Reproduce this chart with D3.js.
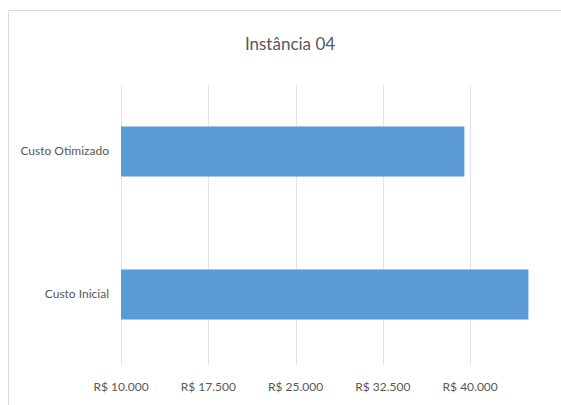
<html>
<head>
<meta charset="utf-8">
<script src="https://d3js.org/d3.v7.min.js"></script>
<style>
  body { margin: 0; background: #fff; }
  text { font-family: Lato, "Open Sans", sans-serif; fill: #595959; }
</style>
</head>
<body>
<svg id="chart" width="561" height="405"></svg>
<script>
var categories = ["Custo Otimizado", "Custo Inicial"];
var values = [39500, 45000];
var tickValues = [10000, 17500, 25000, 32500, 40000];
var title = "Instância 04";

var svg = d3.select("#chart");

// chart area frame (right side is cut off in the original)
svg.append("path")
  .attr("d", "M8.5,405 V10.5 H561")
  .attr("fill", "none")
  .attr("stroke", "#d9d9d9");

var x = d3.scaleLinear().domain([10000, 47500]).range([121, 557.5]);
var y = d3.scaleBand().domain(categories).range([80, 366])
  .paddingInner(0.65).paddingOuter(0.325);

// gridlines
svg.selectAll(".grid")
  .data(tickValues)
  .enter()
  .append("line")
    .attr("x1", function(d){ return Math.round(x(d)) + 0.5 })
    .attr("x2", function(d){ return Math.round(x(d)) + 0.5 })
    .attr("y1", 85)
    .attr("y2", 365)
    .attr("stroke", "#e3e3e3")
    .attr("stroke-width", 1)

// bars
svg.selectAll(".bar")
  .data(values)
  .enter()
  .append("rect")
    .attr("x", x(10000))
    .attr("y", function(d, i){ return y(categories[i]) })
    .attr("width", function(d){ return x(d) - x(10000) })
    .attr("height", y.bandwidth())
    .attr("fill", "#5b9bd5")

// category labels
svg.selectAll(".cat")
  .data(categories)
  .enter()
  .append("text")
    .attr("x", 109)
    .attr("y", function(d){ return y(d) + y.bandwidth() / 2 })
    .attr("text-anchor", "end")
    .attr("dominant-baseline", "middle")
    .style("font-size", "12px")
    .text(function(d){ return d })

// x tick labels
var fmt = function(d){ return "R$ " + d3.format(",.0f")(d).replace(/,/g, ".") };
svg.selectAll(".tick-label")
  .data(tickValues)
  .enter()
  .append("text")
    .attr("x", function(d){ return x(d) })
    .attr("y", 388)
    .attr("text-anchor", "middle")
    .attr("dominant-baseline", "middle")
    .style("font-size", "12px")
    .text(fmt)

// title
svg.append("text")
  .attr("x", 290)
  .attr("y", 46)
  .attr("text-anchor", "middle")
  .attr("dominant-baseline", "middle")
  .style("font-size", "17px")
  .text(title)
</script>
</body>
</html>
